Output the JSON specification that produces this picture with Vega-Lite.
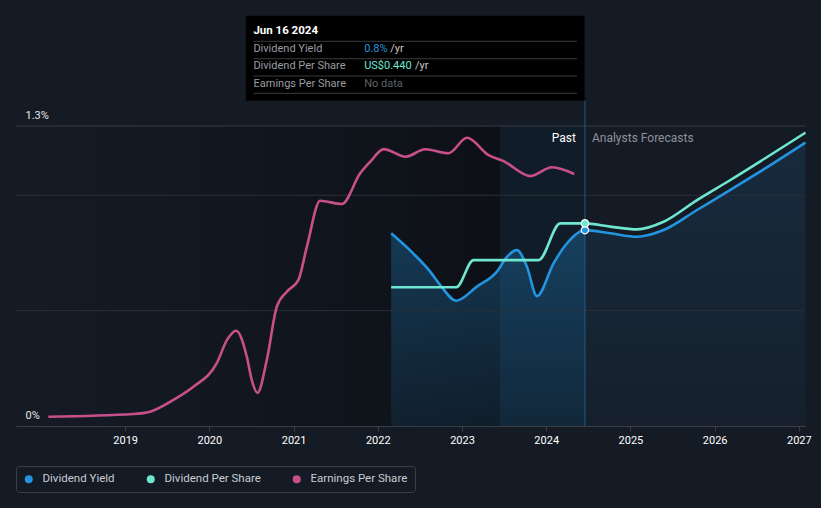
{
  "$schema": "https://vega.github.io/schema/vega-lite/v6.json",
  "width": 789,
  "height": 300,
  "autosize": {"type": "none"},
  "padding": {"left": 16, "top": 126, "right": 16, "bottom": 82},
  "background": "#151b25",
  "config": {"view": {"stroke": null}, "font": "Roboto"},
  "datasets": {
    "main": [
      {"s": "Dividend Yield", "year": 2022.159, "v": 0.835},
      {"s": "Dividend Yield", "year": 2022.42, "v": 0.748},
      {"s": "Dividend Yield", "year": 2022.622, "v": 0.669},
      {"s": "Dividend Yield", "year": 2022.741, "v": 0.611},
      {"s": "Dividend Yield", "year": 2022.931, "v": 0.543},
      {"s": "Dividend Yield", "year": 2023.177, "v": 0.604},
      {"s": "Dividend Yield", "year": 2023.415, "v": 0.669},
      {"s": "Dividend Yield", "year": 2023.534, "v": 0.733},
      {"s": "Dividend Yield", "year": 2023.652, "v": 0.762},
      {"s": "Dividend Yield", "year": 2023.771, "v": 0.69},
      {"s": "Dividend Yield", "year": 2023.89, "v": 0.563},
      {"s": "Dividend Yield", "year": 2024.087, "v": 0.705},
      {"s": "Dividend Yield", "year": 2024.247, "v": 0.792},
      {"s": "Dividend Yield", "year": 2024.46, "v": 0.849},
      {"s": "Dividend Yield", "year": 2024.761, "v": 0.835},
      {"s": "Dividend Yield", "year": 2025.078, "v": 0.82},
      {"s": "Dividend Yield", "year": 2025.394, "v": 0.849},
      {"s": "Dividend Yield", "year": 2025.791, "v": 0.936},
      {"s": "Dividend Yield", "year": 2026.187, "v": 1.023},
      {"s": "Dividend Yield", "year": 2026.582, "v": 1.112},
      {"s": "Dividend Yield", "year": 2027.078, "v": 1.228},
      {"s": "Dividend Per Share", "year": 2022.159, "v": 0.601},
      {"s": "Dividend Per Share", "year": 2022.931, "v": 0.601},
      {"s": "Dividend Per Share", "year": 2023.137, "v": 0.719},
      {"s": "Dividend Per Share", "year": 2023.909, "v": 0.719},
      {"s": "Dividend Per Share", "year": 2024.167, "v": 0.878},
      {"s": "Dividend Per Share", "year": 2024.46, "v": 0.878},
      {"s": "Dividend Per Share", "year": 2024.761, "v": 0.864},
      {"s": "Dividend Per Share", "year": 2025.078, "v": 0.852},
      {"s": "Dividend Per Share", "year": 2025.394, "v": 0.885},
      {"s": "Dividend Per Share", "year": 2025.791, "v": 0.979},
      {"s": "Dividend Per Share", "year": 2026.187, "v": 1.066},
      {"s": "Dividend Per Share", "year": 2026.582, "v": 1.156},
      {"s": "Dividend Per Share", "year": 2027.078, "v": 1.271},
      {"s": "Earnings Per Share", "year": 2018.088, "v": 0.04},
      {"s": "Earnings Per Share", "year": 2019.097, "v": 0.052},
      {"s": "Earnings Per Share", "year": 2019.296, "v": 0.062},
      {"s": "Earnings Per Share", "year": 2019.573, "v": 0.113},
      {"s": "Earnings Per Share", "year": 2019.81, "v": 0.17},
      {"s": "Earnings Per Share", "year": 2020.088, "v": 0.272},
      {"s": "Earnings Per Share", "year": 2020.21, "v": 0.373},
      {"s": "Earnings Per Share", "year": 2020.318, "v": 0.413},
      {"s": "Earnings Per Share", "year": 2020.445, "v": 0.3},
      {"s": "Earnings Per Share", "year": 2020.504, "v": 0.199},
      {"s": "Earnings Per Share", "year": 2020.571, "v": 0.144},
      {"s": "Earnings Per Share", "year": 2020.682, "v": 0.286},
      {"s": "Earnings Per Share", "year": 2020.801, "v": 0.517},
      {"s": "Earnings Per Share", "year": 2020.92, "v": 0.582},
      {"s": "Earnings Per Share", "year": 2021.058, "v": 0.633},
      {"s": "Earnings Per Share", "year": 2021.158, "v": 0.777},
      {"s": "Earnings Per Share", "year": 2021.316, "v": 0.976},
      {"s": "Earnings Per Share", "year": 2021.573, "v": 0.962},
      {"s": "Earnings Per Share", "year": 2021.791, "v": 1.095},
      {"s": "Earnings Per Share", "year": 2021.91, "v": 1.145},
      {"s": "Earnings Per Share", "year": 2022.07, "v": 1.2},
      {"s": "Earnings Per Share", "year": 2022.33, "v": 1.167},
      {"s": "Earnings Per Share", "year": 2022.563, "v": 1.199},
      {"s": "Earnings Per Share", "year": 2022.84, "v": 1.182},
      {"s": "Earnings Per Share", "year": 2023.059, "v": 1.249},
      {"s": "Earnings Per Share", "year": 2023.316, "v": 1.174},
      {"s": "Earnings Per Share", "year": 2023.494, "v": 1.148},
      {"s": "Earnings Per Share", "year": 2023.811, "v": 1.083},
      {"s": "Earnings Per Share", "year": 2024.069, "v": 1.121},
      {"s": "Earnings Per Share", "year": 2024.333, "v": 1.092}
    ]
  },
  "layer": [
    {
      "data": {"values": [{}]},
      "mark": {"type": "rect", "color": {"gradient": "linear", "x1": 0, "y1": 0, "x2": 1, "y2": 0, "stops": [{"offset": 0, "color": "#151b25"}, {"offset": 0.55, "color": "#11161e"}, {"offset": 1, "color": "#0d1016"}]}},
      "encoding": {
        "x": {"datum": 2017.704, "type": "quantitative", "title": null,
          "scale": {"domain": [2017.704, 2027.073], "nice": false, "zero": false},
          "axis": {"values": [2019, 2020, 2021, 2022, 2023, 2024, 2025, 2026, 2027], "format": "d", "grid": false, "domainColor": "#3a3f47", "tickColor": "#3a3f47", "tickSize": 5, "labelColor": "#ffffff", "labelFontSize": 11, "labelPadding": 3, "labelFlush": false, "zindex": 1}},
        "x2": {"datum": 2023.45},
        "y": {"datum": 0, "type": "quantitative", "title": null,
          "scale": {"domain": [0, 1.3], "nice": false, "zero": true},
          "axis": {"values": [0, 1.3], "labelExpr": "datum.value == 0 ? '0%' : '1.3%'", "grid": false, "domain": false, "ticks": false, "labelAlign": "left", "labelPadding": -9, "labelBaseline": "bottom", "labelOffset": -6, "labelColor": "#e6e6e6", "labelFontSize": 11, "labelOverlap": false, "labelBound": false, "labelFlush": false, "zindex": 1}},
        "y2": {"datum": 1.3}
      }
    },
    {
      "data": {"values": [{}]},
      "mark": {"type": "rect", "color": "#101c28"},
      "encoding": {
        "x": {"datum": 2023.45, "type": "quantitative", "title": null},
        "x2": {"datum": 2024.46},
        "y": {"datum": 0, "type": "quantitative", "title": null},
        "y2": {"datum": 1.3}
      }
    },
    {
      "data": {"name": "main"},
      "transform": [{"filter": "datum.s == 'Dividend Yield' && datum.year <= 2024.461"}],
      "mark": {"type": "area", "interpolate": "monotone", "color": {"gradient": "linear", "x1": 0, "y1": 0, "x2": 0, "y2": 1, "stops": [{"offset": 0, "color": "rgba(35,148,223,0.30)"}, {"offset": 1, "color": "rgba(35,148,223,0.10)"}]}},
      "encoding": {
        "x": {"field": "year", "type": "quantitative", "title": null},
        "y": {"field": "v", "type": "quantitative", "title": null}
      }
    },
    {
      "data": {"name": "main"},
      "transform": [{"filter": "datum.s == 'Dividend Yield' && datum.year >= 2024.459"}],
      "mark": {"type": "area", "interpolate": "monotone", "color": {"gradient": "linear", "x1": 0, "y1": 0, "x2": 0, "y2": 1, "stops": [{"offset": 0, "color": "rgba(35,148,223,0.13)"}, {"offset": 1, "color": "rgba(35,148,223,0.04)"}]}},
      "encoding": {
        "x": {"field": "year", "type": "quantitative", "title": null},
        "y": {"field": "v", "type": "quantitative", "title": null}
      }
    },
    {
      "data": {"values": [{}]},
      "mark": {"type": "rule", "color": "#2a3039", "strokeWidth": 1},
      "encoding": {"y": {"datum": 0.5, "type": "quantitative", "title": null}}
    },
    {
      "data": {"values": [{}]},
      "mark": {"type": "rule", "color": "#2a3039", "strokeWidth": 1},
      "encoding": {"y": {"datum": 1, "type": "quantitative", "title": null}}
    },
    {
      "data": {"values": [{}]},
      "mark": {"type": "rule", "color": "#363c45", "strokeWidth": 1},
      "encoding": {"y": {"datum": 1.3, "type": "quantitative", "title": null}}
    },
    {
      "data": {"values": [{}]},
      "mark": {"type": "rule", "color": "#1f5b86", "strokeWidth": 1},
      "encoding": {
        "x": {"datum": 2024.46, "type": "quantitative", "title": null},
        "y": {"datum": 0, "type": "quantitative", "title": null},
        "y2": {"datum": 1.4096}
      }
    },
    {
      "data": {"name": "main"},
      "mark": {"type": "line", "interpolate": "monotone", "strokeWidth": 2.6},
      "encoding": {
        "x": {"field": "year", "type": "quantitative", "title": null},
        "y": {"field": "v", "type": "quantitative", "title": null},
        "color": {"field": "s", "type": "nominal",
          "scale": {"domain": ["Dividend Yield", "Dividend Per Share", "Earnings Per Share"], "range": ["#2394df", "#6ee6d1", "#c94f8b"]},
          "legend": {"title": null, "orient": "none", "legendX": 0, "legendY": 340, "direction": "horizontal", "symbolType": "circle", "symbolSize": 64, "labelColor": "#c8ccd2", "labelFontSize": 11.5, "labelOffset": 8, "columnPadding": 30, "padding": 7, "strokeColor": "#3a3f48", "cornerRadius": 3,
            "encode": {"symbols": {"update": {"fill": {"scale": "color", "field": "value"}, "strokeWidth": {"value": 0}}}}}
        }
      }
    },
    {
      "data": {"name": "main"},
      "transform": [{"filter": "datum.year == 2024.46"}],
      "mark": {"type": "point", "filled": true, "size": 55, "stroke": "#ffffff", "strokeWidth": 1.2, "opacity": 1},
      "encoding": {
        "x": {"field": "year", "type": "quantitative", "title": null},
        "y": {"field": "v", "type": "quantitative", "title": null},
        "fill": {"field": "s", "type": "nominal", "legend": null,
          "scale": {"domain": ["Dividend Yield", "Dividend Per Share"], "range": ["#2394df", "#6ee6d1"]}}
      }
    },
    {
      "data": {"values": [{}]},
      "mark": {"type": "text", "text": "Past", "align": "right", "baseline": "middle", "dx": -9, "color": "#ffffff", "fontSize": 12},
      "encoding": {
        "x": {"datum": 2024.46, "type": "quantitative", "title": null},
        "y": {"datum": 1.2466, "type": "quantitative", "title": null}
      }
    },
    {
      "data": {"values": [{}]},
      "mark": {"type": "text", "text": "Analysts Forecasts", "align": "left", "baseline": "middle", "dx": 7, "color": "#8e9299", "fontSize": 12},
      "encoding": {
        "x": {"datum": 2024.46, "type": "quantitative", "title": null},
        "y": {"datum": 1.2466, "type": "quantitative", "title": null}
      }
    },
    {
      "data": {"values": [{}]},
      "mark": {"type": "rect", "color": "#000000"},
      "encoding": {
        "x": {"datum": 2020.433, "type": "quantitative", "title": null},
        "x2": {"datum": 2024.456},
        "y": {"datum": 1.4096, "type": "quantitative", "title": null},
        "y2": {"datum": 1.778}
      }
    },
    {
      "data": {"values": [{}]},
      "mark": {"type": "rule", "color": "#3a3a3a", "strokeWidth": 1},
      "encoding": {
        "x": {"datum": 2020.523, "type": "quantitative", "title": null},
        "x2": {"datum": 2024.365},
        "y": {"datum": 1.667, "type": "quantitative", "title": null}
      }
    },
    {
      "data": {"values": [{}]},
      "mark": {"type": "rule", "color": "#3a3a3a", "strokeWidth": 1},
      "encoding": {
        "x": {"datum": 2020.523, "type": "quantitative", "title": null},
        "x2": {"datum": 2024.365},
        "y": {"datum": 1.5916, "type": "quantitative", "title": null}
      }
    },
    {
      "data": {"values": [{}]},
      "mark": {"type": "rule", "color": "#3a3a3a", "strokeWidth": 1},
      "encoding": {
        "x": {"datum": 2020.523, "type": "quantitative", "title": null},
        "x2": {"datum": 2024.365},
        "y": {"datum": 1.5166, "type": "quantitative", "title": null}
      }
    },
    {
      "data": {"values": [{}]},
      "mark": {"type": "rule", "color": "#3a3a3a", "strokeWidth": 1},
      "encoding": {
        "x": {"datum": 2020.523, "type": "quantitative", "title": null},
        "x2": {"datum": 2024.365},
        "y": {"datum": 1.4416, "type": "quantitative", "title": null}
      }
    },
    {
      "data": {"values": [{}]},
      "mark": {"type": "text", "text": "Jun 16 2024", "align": "left", "baseline": "middle", "color": "#ffffff", "fontSize": 11.5, "fontWeight": "bold"},
      "encoding": {
        "x": {"datum": 2020.523, "type": "quantitative", "title": null},
        "y": {"datum": 1.7117, "type": "quantitative", "title": null}
      }
    },
    {
      "data": {"values": [{}]},
      "mark": {"type": "text", "text": "Dividend Yield", "align": "left", "baseline": "middle", "color": "#9a9da2", "fontSize": 11},
      "encoding": {
        "x": {"datum": 2020.523, "type": "quantitative", "title": null},
        "y": {"datum": 1.6323, "type": "quantitative", "title": null}
      }
    },
    {
      "data": {"values": [{}]},
      "mark": {"type": "text", "text": "Dividend Per Share", "align": "left", "baseline": "middle", "color": "#9a9da2", "fontSize": 11},
      "encoding": {
        "x": {"datum": 2020.523, "type": "quantitative", "title": null},
        "y": {"datum": 1.56, "type": "quantitative", "title": null}
      }
    },
    {
      "data": {"values": [{}]},
      "mark": {"type": "text", "text": "Earnings Per Share", "align": "left", "baseline": "middle", "color": "#9a9da2", "fontSize": 11},
      "encoding": {
        "x": {"datum": 2020.523, "type": "quantitative", "title": null},
        "y": {"datum": 1.482, "type": "quantitative", "title": null}
      }
    },
    {
      "data": {"values": [{}]},
      "mark": {"type": "text", "text": "0.8%", "align": "left", "baseline": "middle", "color": "#2394df", "fontSize": 11},
      "encoding": {
        "x": {"datum": 2021.838, "type": "quantitative", "title": null},
        "y": {"datum": 1.6323, "type": "quantitative", "title": null}
      }
    },
    {
      "data": {"values": [{}]},
      "mark": {"type": "text", "text": "/yr", "align": "left", "baseline": "middle", "color": "#c8c8c8", "fontSize": 11},
      "encoding": {
        "x": {"datum": 2022.147, "type": "quantitative", "title": null},
        "y": {"datum": 1.6323, "type": "quantitative", "title": null}
      }
    },
    {
      "data": {"values": [{}]},
      "mark": {"type": "text", "text": "US$0.440", "align": "left", "baseline": "middle", "color": "#6ee6d1", "fontSize": 11},
      "encoding": {
        "x": {"datum": 2021.838, "type": "quantitative", "title": null},
        "y": {"datum": 1.56, "type": "quantitative", "title": null}
      }
    },
    {
      "data": {"values": [{}]},
      "mark": {"type": "text", "text": "/yr", "align": "left", "baseline": "middle", "color": "#c8c8c8", "fontSize": 11},
      "encoding": {
        "x": {"datum": 2022.441, "type": "quantitative", "title": null},
        "y": {"datum": 1.56, "type": "quantitative", "title": null}
      }
    },
    {
      "data": {"values": [{}]},
      "mark": {"type": "text", "text": "No data", "align": "left", "baseline": "middle", "color": "#5f6266", "fontSize": 11},
      "encoding": {
        "x": {"datum": 2021.838, "type": "quantitative", "title": null},
        "y": {"datum": 1.482, "type": "quantitative", "title": null}
      }
    }
  ]
}
